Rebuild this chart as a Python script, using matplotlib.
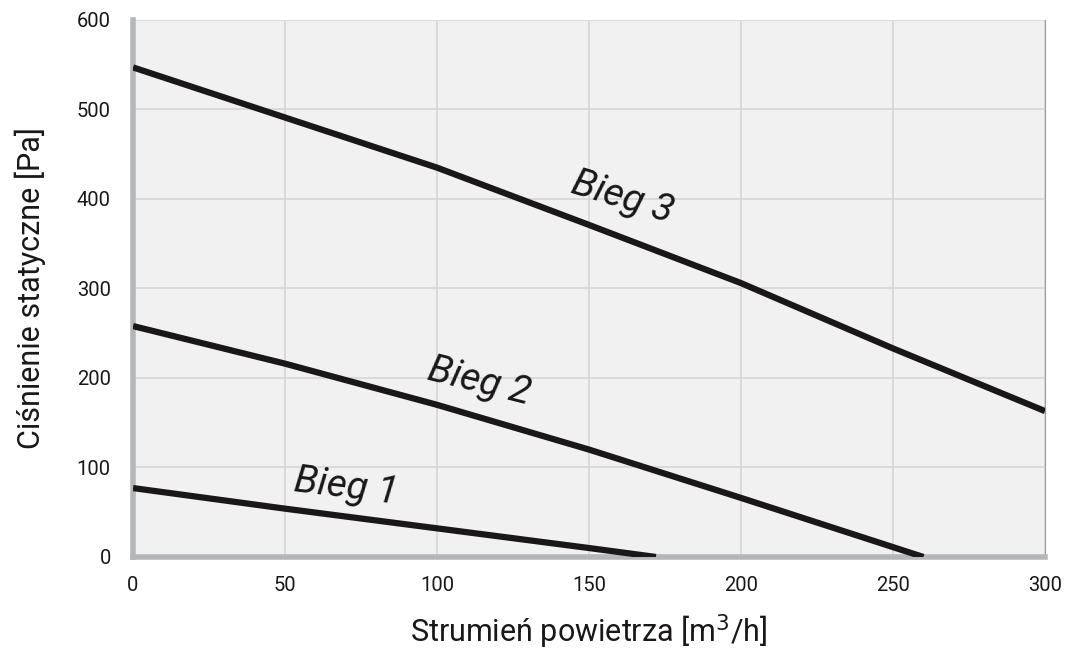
import numpy as np
import matplotlib.pyplot as plt

plt.rcParams['font.family'] = ['Roboto', 'DejaVu Sans']

flow3 = [0, 50, 100, 150, 200, 250, 300]
bieg3 = [547, 491, 435, 371, 306, 233, 163]
flow2 = [0, 50, 100, 150, 200, 260]
bieg2 = [258, 216, 170, 120, 66, 0]
flow1 = [0, 50, 100, 150, 172]
bieg1 = [77, 54, 32, 10, 0]

xticks = [0, 50, 100, 150, 200, 250, 300]
yticks = [0, 100, 200, 300, 400, 500, 600]

fig = plt.figure(figsize=(10.67, 6.59), dpi=100)
ax = fig.add_axes([0.1247, 0.1548, 0.8547, 0.8149])
ax.set_facecolor('#f1f1f1')

for x, y in [(flow3, bieg3), (flow2, bieg2), (flow1, bieg1)]:
    ax.plot(x, y, color='#1a1718', lw=4.5, solid_capstyle='butt',
            solid_joinstyle='round', zorder=3)

ax.set_xlim(0, 300)
ax.set_ylim(0, 600)
ax.set_xticks(xticks)
ax.set_yticks(yticks)
ax.grid(color='#d6d6d6', lw=1.2)
ax.set_axisbelow(True)
ax.tick_params(length=0, labelsize=14.5, colors='#1a1718')
ax.tick_params(axis='x', pad=14)
ax.tick_params(axis='y', pad=16)

ax.spines['top'].set_visible(False)
ax.spines['right'].set_color('#9a9a9a')
ax.spines['right'].set_linewidth(0.8)
for s in ['left', 'bottom']:
    ax.spines[s].set_color('#b5b6b9')
    ax.spines[s].set_linewidth(4)

lab = dict(fontsize=28, style='italic', color='#1a1718', ha='center', va='center')
ax.text(161, 402, 'Bieg 3', rotation=-17, **lab)
ax.text(114, 196, 'Bieg 2', rotation=-14, **lab)
ax.text(70, 78, 'Bieg 1', rotation=-7, **lab)

ax.set_xlabel('Strumień powietrza [m$^3$/h]', fontsize=22, labelpad=12, color='#1a1718')
ax.set_ylabel('Ciśnienie statyczne [Pa]', fontsize=22, labelpad=22, color='#1a1718')

fig.savefig('out.png', dpi=100)
